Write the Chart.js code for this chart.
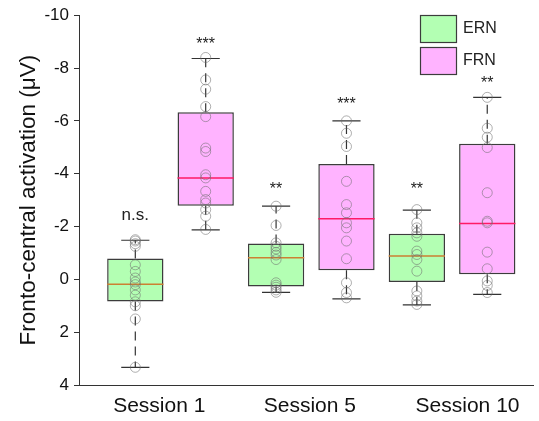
<!DOCTYPE html>
<html>
<head>
<meta charset="utf-8">
<script src="https://cdn.jsdelivr.net/npm/chart.js@4.4.0/dist/chart.umd.min.js"></script>
<style>
  html, body { margin: 0; padding: 0; background: #fff; }
  #wrap { width: 539px; height: 421px; }
</style>
</head>
<body>
<div id="wrap"><canvas id="chart" width="539" height="421"></canvas></div>
<script>
const sessions = ['Session 1', 'Session 5', 'Session 10'];
const groups = ['ERN', 'FRN'];

// box stats per session (µV, negative = up)
const ernWhiskLo = [-1.48, -2.77, -2.62];
const ernQ1      = [-0.79, -1.36, -1.73];
const ernMedian  = [0.19, -0.82, -0.88];
const ernQ3      = [0.84, 0.27, 0.10];
const ernWhiskHi = [3.33, 0.49, 0.97];

const frnWhiskLo = [-8.36, -6.00, -6.89];
const frnQ1      = [-6.33, -4.37, -5.13];
const frnMedian  = [-3.84, -2.29, -2.11];
const frnQ3      = [-2.79, -0.34, -0.19];
const frnWhiskHi = [-1.87, 0.74, 0.57];

// individual subjects
const ernPoints = [
  [-1.5, -1.45, -1.35, -1.25, -0.55, -0.3, -0.05, 0.1, 0.2, 0.4, 0.6, 0.85, 1.0, 1.5, 3.33],
  [-2.77, -2.04, -1.38, -1.25, -1.15, -1.02, -0.92, -0.75, 0.13, 0.22, 0.3, 0.4, 0.49],
  [-2.64, -2.14, -1.95, -1.76, -1.63, -1.07, -0.94, -0.75, -0.31, 0.44, 0.63, 0.82, 0.95]
];
const frnPoints = [
  [-8.4, -7.55, -7.2, -6.54, -6.16, -4.97, -4.84, -3.96, -3.84, -3.33, -3.02, -2.89, -2.64, -2.39, -1.89],
  [-6.0, -5.53, -5.03, -3.71, -2.83, -2.52, -2.14, -1.95, -1.45, -0.78, 0.13, 0.5, 0.7],
  [-6.89, -5.72, -5.38, -4.99, -3.28, -2.2, -2.14, -1.03, -0.4, 0.06, 0.23, 0.5]
];

// significance marks
const ernSig  = ['n.s.', '**', '**'];
const ernSigY = [-2.4, -3.6, -3.6];
const frnSig  = ['***', '***', '**'];
const frnSigY = [-9.06, -6.8, -7.6];

const yTicks = [-10, -8, -6, -4, -2, 0, 2, 4];

const FONT = "'Liberation Sans', Arial, sans-serif";
const GREEN = 'rgb(179,255,179)';
const PINK = 'rgb(255,179,255)';
const EDGE = '#3c3c3c';

// box centres: ERN left, FRN right in each session
const ernPos = sessions.map((s, i) => 2 * i + 1);
const frnPos = sessions.map((s, i) => 2 * i + 2);
const labelPos = [1.34, 3.48, 5.72];

function boxBars(pos, q1, q3) {
  return pos.map((p, i) => ({ x: p, y: [q1[i], q3[i]] }));
}
function whiskers(pos, lo, q1, q3, hi) {
  const out = [];
  pos.forEach((p, i) => {
    out.push({ x: p, y: q1[i] }, { x: p, y: lo[i] }, { x: p, y: null });
    out.push({ x: p, y: q3[i] }, { x: p, y: hi[i] }, { x: p, y: null });
  });
  return out;
}
function caps(pos, lo, hi) {
  const out = [];
  pos.forEach((p, i) => {
    out.push({ x: p - 0.2, y: lo[i] }, { x: p + 0.2, y: lo[i] }, { x: p, y: null });
    out.push({ x: p - 0.2, y: hi[i] }, { x: p + 0.2, y: hi[i] }, { x: p, y: null });
  });
  return out;
}
function medians(pos, med) {
  const out = [];
  pos.forEach((p, i) => {
    out.push({ x: p - 0.4, y: med[i] }, { x: p + 0.4, y: med[i] }, { x: p, y: null });
  });
  return out;
}
function dots(pos, pts) {
  const out = [];
  pos.forEach((p, i) => pts[i].forEach(v => out.push({ x: p, y: v })));
  return out;
}

const lineBase = { type: 'line', pointRadius: 0, borderWidth: 1, spanGaps: false, fill: false, tension: 0 };

// legend and significance text
const extras = {
  id: 'extras',
  afterDraw(chart) {
    const { ctx, scales: { x, y } } = chart;
    ctx.save();
    ctx.fillStyle = '#222';
    ctx.textAlign = 'center';
    ctx.textBaseline = 'alphabetic';
    const put = (txt, px, val) => {
      const fs = txt[0] === '*' ? 16 : 17;
      ctx.font = fs + 'px ' + FONT;
      const yc = y.getPixelForValue(val);
      const off = txt[0] === '*' ? 0.58 * fs : 0.26 * fs;
      ctx.fillText(txt, px, yc + off);
    };
    ernPos.forEach((p, i) => put(ernSig[i], x.getPixelForValue(p), ernSigY[i]));
    frnPos.forEach((p, i) => put(frnSig[i], x.getPixelForValue(p), frnSigY[i]));

    // legend
    const fills = [GREEN, PINK];
    ctx.font = '16px ' + FONT;
    ctx.textAlign = 'left';
    ctx.textBaseline = 'middle';
    groups.forEach((g, i) => {
      const top = 15 + i * 32;
      ctx.fillStyle = fills[i];
      ctx.fillRect(420, top, 36, 27);
      ctx.strokeStyle = EDGE;
      ctx.lineWidth = 1.2;
      ctx.strokeRect(420.5, top + 0.5, 36, 27);
      ctx.fillStyle = '#222';
      ctx.fillText(g, 463, top + 14);
    });
    ctx.restore();
  }
};

const ctx = document.getElementById('chart').getContext('2d');
new Chart(ctx, {
  type: 'scatter',
  data: {
    datasets: [
      { type: 'bar', label: 'ERN', data: boxBars(ernPos, ernQ1, ernQ3), backgroundColor: GREEN,
        borderColor: EDGE, borderWidth: 1.5, borderSkipped: false, barPercentage: 0.8,
        categoryPercentage: 1, grouped: false, order: 10 },
      { type: 'bar', label: 'FRN', data: boxBars(frnPos, frnQ1, frnQ3), backgroundColor: PINK,
        borderColor: EDGE, borderWidth: 1.5, borderSkipped: false, barPercentage: 0.8,
        categoryPercentage: 1, grouped: false, order: 10 },
      { ...lineBase, label: 'ern med', data: medians(ernPos, ernMedian), borderColor: 'rgb(204,128,51)', borderWidth: 1.5, order: 8 },
      { ...lineBase, label: 'frn med', data: medians(frnPos, frnMedian), borderColor: 'rgb(255,26,102)', borderWidth: 1.5, order: 8 },
      { ...lineBase, label: 'whiskers',
        data: whiskers(ernPos, ernWhiskLo, ernQ1, ernQ3, ernWhiskHi).concat(whiskers(frnPos, frnWhiskLo, frnQ1, frnQ3, frnWhiskHi)),
        borderColor: '#333', borderDash: [9, 6], borderWidth: 1.2, order: 6 },
      { ...lineBase, label: 'caps',
        data: caps(ernPos, ernWhiskLo, ernWhiskHi).concat(caps(frnPos, frnWhiskLo, frnWhiskHi)),
        borderColor: '#333', borderWidth: 1.2, order: 6 },
      { type: 'scatter', label: 'ern pts', data: dots(ernPos, ernPoints), pointRadius: 5,
        pointBackgroundColor: 'rgba(0,0,0,0)', pointBorderColor: 'rgba(110,110,110,0.55)', pointBorderWidth: 1, order: 4 },
      { type: 'scatter', label: 'frn pts', data: dots(frnPos, frnPoints), pointRadius: 5,
        pointBackgroundColor: 'rgba(0,0,0,0)', pointBorderColor: 'rgba(110,110,110,0.55)', pointBorderWidth: 1, order: 4 }
    ]
  },
  options: {
    responsive: false,
    animation: false,
    layout: { padding: { top: 15, right: 2, left: 0, bottom: 0 } },
    plugins: { legend: { display: false }, tooltip: { enabled: false } },
    scales: {
      x: {
        type: 'linear', min: 0.2, max: 6.65, offset: false,
        grid: { display: false, drawTicks: false },
        border: { display: true, color: '#333', width: 1 },
        afterBuildTicks: s => { s.ticks = labelPos.map(v => ({ value: v })); },
        ticks: {
          autoSkip: false, maxRotation: 0, padding: 9, color: '#111',
          font: { family: FONT, size: 21 },
          callback: (v, i) => sessions[i]
        },
        afterFit: s => { s.height = 36; }
      },
      y: {
        type: 'linear', min: -10, max: 4, reverse: true,
        grid: { display: true, drawOnChartArea: false, drawTicks: true, tickLength: 5, tickColor: '#333' },
        border: { display: true, color: '#333', width: 1 },
        afterBuildTicks: s => { s.ticks = yTicks.map(v => ({ value: v })); },
        ticks: { padding: 5, color: '#111', font: { family: FONT, size: 17 } },
        title: { display: true, text: 'Fronto-central activation (\u03bcV)', color: '#111',
          font: { family: FONT, size: 22.5 }, padding: { top: 15, bottom: 0 } },
        afterFit: s => { s.width = 79; }
      }
    }
  },
  plugins: [extras]
});
</script>
</body>
</html>
